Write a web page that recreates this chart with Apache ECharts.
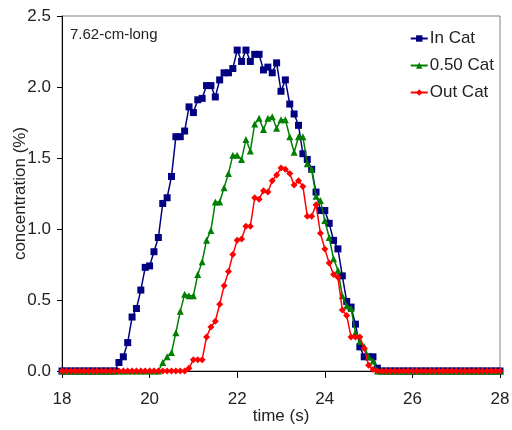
<!DOCTYPE html>
<html><head><meta charset="utf-8">
<script src="https://cdn.jsdelivr.net/npm/echarts@6/dist/echarts.min.js"></script>
<style>html,body{margin:0;padding:0;background:#fff}#c{width:512px;height:430px}</style>
</head><body><div id="c"></div>
<script>
const times = [18.0,18.1,18.2,18.3,18.4,18.5,18.6,18.7,18.8,18.9,
19.0,19.1,19.2,19.3,19.4,19.5,19.6,19.7,19.8,19.9,
20.0,20.1,20.2,20.3,20.4,20.5,20.6,20.7,20.8,20.9,
21.0,21.1,21.2,21.3,21.4,21.5,21.6,21.7,21.8,21.9,
22.0,22.1,22.2,22.3,22.4,22.5,22.6,22.7,22.8,22.9,
23.0,23.1,23.2,23.3,23.4,23.5,23.6,23.7,23.8,23.9,
24.0,24.1,24.2,24.3,24.4,24.5,24.6,24.7,24.8,24.9,
25.0,25.1,25.2,25.3,25.4,25.5,25.6,25.7,25.8,25.9,
26.0,26.1,26.2,26.3,26.4,26.5,26.6,26.7,26.8,26.9,
27.0,27.1,27.2,27.3,27.4,27.5,27.6,27.7,27.8,27.9,28.0];

const inCat = [0,0,0,0,0,0,0,0,0,0,
0,0,0,0.06,0.10,0.20,0.38,0.44,0.57,0.73,
0.74,0.84,0.94,1.18,1.22,1.37,1.65,1.65,1.69,1.86,
1.82,1.91,1.92,2.01,2.01,1.93,2.05,2.10,2.10,2.13,
2.26,2.18,2.26,2.18,2.23,2.23,2.12,2.14,2.10,2.17,
1.97,2.05,1.88,1.81,1.73,1.53,1.49,1.42,1.26,1.13,
1.13,1.04,0.92,0.86,0.67,0.49,0.45,0.33,0.17,0.10,
0.10,0.10,0.02,0,0,0,0,0,0,0,
0,0,0,0,0,0,0,0,0,0,
0,0,0,0,0,0,0,0,0,0,0];

const midCat = [0,0,0,0,0,0,0,0,0,0,
0,0,0,0,0,0,0,0,0,0,
0,0,0,0.06,0.10,0.13,0.27,0.42,0.54,0.53,
0.53,0.68,0.77,0.92,0.99,1.19,1.19,1.29,1.39,1.52,
1.52,1.49,1.63,1.55,1.74,1.78,1.70,1.78,1.79,1.71,
1.77,1.77,1.65,1.54,1.65,1.65,1.46,1.42,1.23,1.20,
1.06,0.94,0.79,0.71,0.53,0.46,0.44,0.27,0.21,0.17,
0.10,0.07,0,0,0,0,0,0,0,0,
0,0,0,0,0,0,0,0,0,0,
0,0,0,0,0,0,0,0,0,0,0];

const outCat = [0,0,0,0,0,0,0,0,0,0,
0,0,0,0,0,0,0,0,0,0,
0,0,0,0,0,0,0,0,0,0.02,
0.08,0.08,0.08,0.24,0.31,0.35,0.47,0.60,0.70,0.82,
0.92,0.93,1.02,1.02,1.22,1.21,1.27,1.26,1.34,1.38,
1.43,1.42,1.39,1.31,1.34,1.30,1.09,1.09,1.17,0.97,
0.86,0.76,0.68,0.66,0.43,0.39,0.24,0.24,0.24,0.16,
0.04,0.01,0,0,0,0,0,0,0,0,
0,0,0,0,0,0,0,0,0,0,
0,0,0,0,0,0,0,0,0,0,0];

const seriesNames = ['In Cat', '0.50 Cat', 'Out Cat'];
const xTicks = [18, 20, 22, 24, 26, 28];
const yTicks = [0.0, 0.5, 1.0, 1.5, 2.0, 2.5];

const FONT = '"Liberation Sans Narrow", "Arial Narrow", "Liberation Sans", Arial, sans-serif';
const pair = arr => times.map((t, i) => [t, arr[i]]);

const chart = echarts.init(document.getElementById('c'), null, {renderer: 'canvas'});
chart.setOption({
  animation: false,
  backgroundColor: '#fff',
  grid: {left: 62, right: 12, top: 16, bottom: 59, containLabel: false, outerBoundsMode: 'none',
         show: true, borderColor: '#808080', borderWidth: 1, backgroundColor: 'transparent'},
  graphic: [{type: 'text', left: 70, top: 27, style: {text: '7.62-cm-long', font: '15px ' + FONT, fill: '#222'}}],
  legend: {
    data: seriesNames, orient: 'vertical', right: 13, top: 25, itemGap: 10,
    itemWidth: 17, itemHeight: 8,
    textStyle: {fontFamily: FONT, fontSize: 17, color: '#222', padding: [0, 0, 0, -3]}
  },
  xAxis: {
    type: 'value', min: xTicks[0], max: xTicks[xTicks.length - 1], interval: 2,
    name: 'time (s)', nameLocation: 'middle', nameGap: 37, nameMoveOverlap: false,
    nameTextStyle: {fontFamily: FONT, fontSize: 17, color: '#222'},
    axisLine: {onZero: false, lineStyle: {color: '#000', width: 1}},
    axisTick: {show: true, length: 7, lineStyle: {color: '#000'}},
    axisLabel: {fontFamily: FONT, fontSize: 17, color: '#222', margin: 20},
    splitLine: {show: false}
  },
  yAxis: {
    type: 'value', min: yTicks[0], max: yTicks[yTicks.length - 1], interval: 0.5,
    name: 'concentration (%)', nameLocation: 'middle', nameGap: 33, nameMoveOverlap: false,
    nameTextStyle: {fontFamily: '"Liberation Sans", Arial, sans-serif', fontSize: 17, color: '#222'},
    axisLine: {show: true, lineStyle: {color: '#000', width: 1}},
    axisTick: {show: true, length: 5, lineStyle: {color: '#000'}},
    axisLabel: {fontFamily: FONT, fontSize: 17, color: '#222', margin: 11, formatter: v => v.toFixed(1)},
    splitLine: {show: false}
  },
  series: [
    {name: seriesNames[0], type: 'line', data: pair(inCat), symbol: 'rect', symbolSize: 7,
     lineStyle: {color: '#000080', width: 1.5}, itemStyle: {color: '#000080'}, z: 2},
    {name: seriesNames[1], type: 'line', data: pair(midCat), symbol: 'triangle', symbolSize: 7,
     lineStyle: {color: '#008000', width: 1.5}, itemStyle: {color: '#008000'}, z: 3},
    {name: seriesNames[2], type: 'line', data: pair(outCat), symbol: 'diamond', symbolSize: 7,
     lineStyle: {color: '#ff0000', width: 1.5}, itemStyle: {color: '#ff0000'}, z: 4}
  ]
});
</script></body></html>
